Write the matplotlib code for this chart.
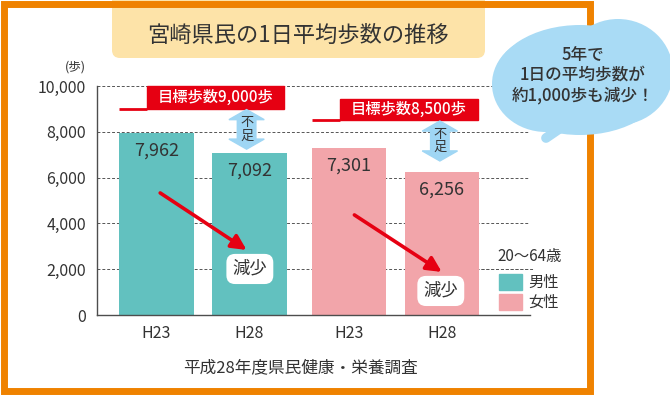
import numpy as np
import matplotlib
matplotlib.use("Agg")
from matplotlib import pyplot as plt
from matplotlib.patches import Rectangle, FancyBboxPatch, Ellipse, Polygon

plt.rcParams['font.family'] = ['Noto Sans CJK JP', 'DejaVu Sans']

# data
years = ["H23", "H28"]
men_steps = [7962, 7092]
women_steps = [7301, 6256]
men_target = 9000
women_target = 8500
y_ticks = [0, 2000, 4000, 6000, 8000, 10000]

TEAL = "#62c1bf"
PINK = "#f2a5aa"
RED = "#e60012"
ORANGE = "#ef8200"
BLUE = "#a9dbf5"
ARROW_BLUE = "#9fd6f4"
TXT = "#333333"

W, H = 670, 396
fig = plt.figure(figsize=(W / 100, H / 100), dpi=100)
fig.patch.set_facecolor("white")

# main axes placed in pixel units
ax = fig.add_axes([97 / W, 1 - 315 / H, 433 / W, 229 / H])
ax.set_facecolor("none")

width = 0.8
men_x = np.arange(2)
women_x = np.arange(2) + 2.07

ax.bar(men_x, men_steps, width=width, color=TEAL, zorder=2)
ax.bar(women_x, women_steps, width=width, color=PINK, zorder=2)

ax.set_xlim(-0.64, 4.02)
ax.set_ylim(0, 10000)
ax.set_yticks(y_ticks)
ax.set_yticklabels(["{:,}".format(v) for v in y_ticks])
ax.set_xticks(list(men_x) + list(women_x))
ax.set_xticklabels(years + years)
ax.tick_params(axis="both", length=0, colors=TXT)
ax.tick_params(axis="y", labelsize=11.5, pad=8)
ax.tick_params(axis="x", labelsize=11.5, pad=7)

for s in ["top", "right"]:
    ax.spines[s].set_visible(False)
for s in ["left", "bottom"]:
    ax.spines[s].set_color("#4d4d4d")
    ax.spines[s].set_linewidth(1)
ax.yaxis.grid(True, color="#555555", linestyle=(0, (3, 2)), linewidth=0.7)
ax.set_axisbelow(True)

# value labels
for xs, vals in [(men_x, men_steps), (women_x, women_steps)]:
    for x, v in zip(xs, vals):
        ax.annotate("{:,}".format(v), (x, v), xytext=(0, -13), textcoords="offset points",
                    ha="center", va="center", fontsize=13, color=TXT, zorder=4)


def target_label(x_left, x_box, x_right, y, h, text):
    ax.plot([x_left, x_box], [y, y], color=RED, lw=2, solid_capstyle="butt", zorder=4, clip_on=False)
    ax.add_patch(Rectangle((x_box, y), x_right - x_box, h, color=RED, zorder=4, clip_on=False))
    ax.text((x_box + x_right) / 2, y + h / 2, text, color="white", fontsize=11,
            ha="center", va="center", fontweight="medium", zorder=5)


target_label(men_x[0] - width / 2, -0.1, 1.37, men_target, 1000, "目標歩数9,000歩")
target_label(women_x[0] - width / 2, 1.97, 3.46, women_target, 950, "目標歩数8,500歩")


def double_arrow(c, top, bottom):
    hw, sw, hl = 0.19, 0.1, 440
    pts = [(c, top), (c + hw, top - hl), (c + sw, top - hl), (c + sw, bottom + hl),
           (c + hw, bottom + hl), (c, bottom), (c - hw, bottom + hl), (c - sw, bottom + hl),
           (c - sw, top - hl), (c - hw, top - hl)]
    ax.add_patch(Polygon(pts, closed=True, color=ARROW_BLUE, zorder=4, clip_on=False))
    ax.text(c, (top + bottom) / 2, "不\n足", ha="center", va="center", fontsize=9.5,
            color=TXT, linespacing=1.0, zorder=5)


double_arrow(men_x[1] - 0.03, men_target - 30, men_steps[1] + 150)
double_arrow(women_x[1] - 0.02, women_target - 30, women_steps[1] + 470)

# decrease arrows
for (x0, y0), (x1, y1) in [((0.04, 5330), (0.97, 2840)), ((2.13, 4370), (3.07, 1880))]:
    ax.annotate("", xy=(x1, y1), xytext=(x0, y0),
                arrowprops=dict(arrowstyle="-|>,head_length=0.9,head_width=0.45",
                                color=RED, lw=2.6, shrinkA=0, shrinkB=0), zorder=5)

for x, y in [(1.005, 2010), (3.06, 1050)]:
    ax.text(x, y, "減少", ha="center", va="center", fontsize=12.5, color=TXT, zorder=6,
            bbox=dict(boxstyle="round,pad=0.35,rounding_size=0.5", fc="white", ec="none"))

# overlay in pixel coordinates for decorations
ov = fig.add_axes([0, 0, 1, 1], zorder=5)
ov.set_xlim(0, W)
ov.set_ylim(H, 0)
ov.axis("off")
ov.patch.set_alpha(0)

# title box
ov.add_patch(FancyBboxPatch((112, -20), 373, 78, boxstyle="round,pad=0,rounding_size=8",
                            fc="#fde3a8", ec="none", zorder=1))
ov.text(298, 35, "宮崎県民の1日平均歩数の推移", ha="center", va="center",
        fontsize=16, color=TXT, zorder=2)

# frame
ov.add_patch(Rectangle((3.5, 4), 586.5, 387, fill=False, ec=ORANGE, lw=5.0, zorder=3))

ov.text(75, 67, "(歩)", ha="center", va="center", fontsize=9, color=TXT)
ov.text(300, 368, "平成28年度県民健康・栄養調査", ha="center", va="center",
        fontsize=12, color=TXT)

# legend
ov.text(497, 256, "20〜64歳", ha="left", va="center", fontsize=11, color=TXT)
ov.plot([481, 533], [269, 269], color="#555555", lw=0.7, linestyle=(0, (3, 2)))
for y, col, lab in [(274, TEAL, "男性"), (294, PINK, "女性")]:
    ov.add_patch(Rectangle((499, y), 23, 16, color=col))
    ov.text(528, y + 8, lab, ha="left", va="center", fontsize=11, color=TXT)

# speech bubble
for cx, cy, ew, eh in [(580, 80, 172, 110), (618, 72, 110, 106), (546, 84, 108, 96)]:
    ov.add_patch(Ellipse((cx, cy), ew, eh, color=BLUE, zorder=6, lw=0))
ov.plot([565, 546], [125, 138], color=BLUE, lw=7, solid_capstyle="round", zorder=6)
for y, line in [(55, "5年で"), (75, "1日の平均歩数が"), (95, "約1,000歩も減少！")]:
    ov.text(583, y, line, ha="center", va="center", fontsize=12, color=TXT,
            fontweight="medium", zorder=7)

fig.savefig("out.png", dpi=100)
